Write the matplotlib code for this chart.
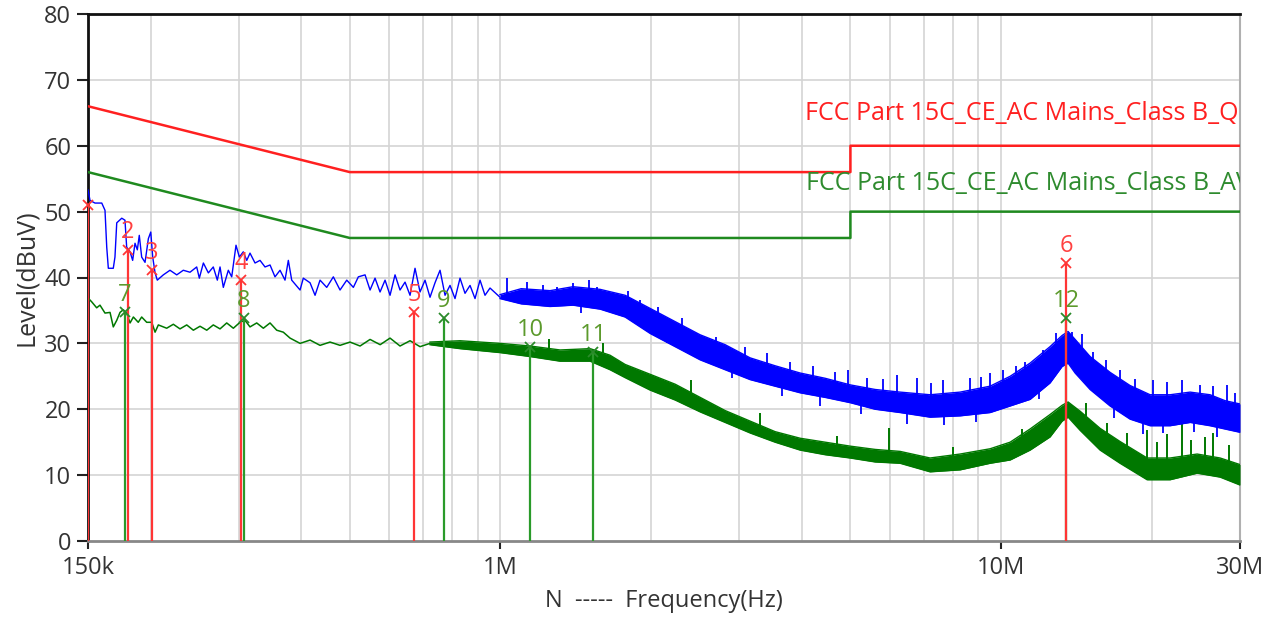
import matplotlib
matplotlib.use('Agg')
import matplotlib.pyplot as plt
import numpy as np

plt.rcParams['font.family'] = ['Open Sans', 'DejaVu Sans']

# ---------------- data ----------------
qp_limit_freq_khz = [150, 500, 5000, 5000, 30000]
qp_limit_db = [66, 56, 56, 60, 60]
av_limit_freq_khz = [150, 500, 5000, 5000, 30000]
av_limit_db = [56, 46, 46, 50, 50]

# peak (blue) trace, thin part
pk_line_freq_khz = [150, 151.4, 154.9, 159.8, 162.2, 163.5, 164.7, 168.5, 169.8, 171.2, 175.2, 177.8,
                    179.2, 182.0, 184.2, 186.2, 188.2, 189.9, 192.0, 195.0, 198.0, 200.2, 202.0, 204.2,
                    206.3, 212.1, 218.7, 225.6, 232.5, 239.8, 247.3, 250.3, 255.0, 260.9, 266.9, 271.9,
                    275.3, 279.5, 286.0, 290.5, 296.3, 300.9, 306.4, 311.3, 316.0, 323.4, 330.9, 338.6,
                    346.5, 354.5, 362.8, 371.2, 376.9, 382.8, 397.8, 403.8, 416.5, 426.2, 436.1, 449.7,
                    463.6, 478.1, 493.1, 508.3, 520.1, 536.4, 548.9, 561.6, 574.7, 588.1, 601.7, 615.7,
                    630.0, 644.7, 659.7, 675.0, 690.7, 706.8, 723.2, 740.0, 757.3, 774.9, 792.9, 811.3,
                    830.2, 849.5, 869.3, 889.5, 910.2, 931.3, 953.0, 997.9]
pk_line_db = [53.3, 51.7, 51.3, 51.3, 50.2, 44.6, 41.4, 41.4, 43.1, 48.3, 49.0, 48.7,
              44.6, 43.9, 42.6, 45.2, 44.2, 46.4, 43.1, 42.3, 45.9, 46.9, 43.1, 40.7,
              39.6, 40.4, 41.1, 40.4, 41.1, 40.8, 41.6, 39.9, 42.2, 40.7, 41.6, 39.6,
              41.6, 38.5, 41.1, 40.1, 44.9, 43.1, 43.9, 42.6, 43.7, 42.2, 42.6, 41.6,
              41.9, 40.1, 41.1, 39.6, 42.6, 39.6, 38.1, 39.9, 39.2, 37.3, 39.6, 38.5,
              40.1, 38.1, 39.6, 38.5, 40.1, 40.4, 38.1, 39.9, 37.8, 39.6, 37.3, 40.4,
              38.1, 39.3, 37.3, 41.4, 37.8, 39.6, 37.0, 39.2, 41.1, 37.3, 38.8, 36.8,
              39.9, 37.6, 38.8, 36.8, 39.6, 37.3, 38.4, 37.0]

# peak (blue) trace, dense part: lower and upper envelope
pk_band_freq_khz = [997.9, 1100, 1256, 1396, 1581, 1774, 1991, 2233, 2505, 2810, 3152, 3536, 3967, 4451,
                    4994, 5602, 6284, 7212, 8280, 9505, 10423, 11424, 12523, 13238, 13608, 14054,
                    15055, 16504, 18094, 19839, 21750, 23850, 26145, 28005, 30000]
pk_band_lo_db = [36.8, 36.0, 35.6, 35.8, 35.2, 34.0, 31.5, 29.5, 27.5, 26.0, 24.5, 23.5, 22.5, 21.8,
                 21.0, 20.0, 19.5, 18.8, 19.0, 19.5, 20.5, 21.5, 24.0, 26.5, 27.0, 25.5,
                 23.0, 20.5, 18.5, 17.5, 17.5, 18.0, 17.5, 17.0, 16.5]
pk_band_hi_db = [37.4, 38.3, 38.0, 38.6, 38.2, 37.3, 35.3, 33.3, 31.3, 29.8, 27.8, 26.6, 25.5, 24.7,
                 23.7, 23.0, 22.6, 22.2, 22.6, 23.5, 25.0, 27.0, 29.5, 31.2, 31.8, 30.6,
                 28.0, 25.6, 23.6, 22.2, 22.2, 22.6, 22.2, 21.3, 20.8]
pk_spike_freq_khz = [1031, 1130, 1216, 1297, 1396, 1500, 1559, 1670, 1800, 1901, 2065, 2300, 2470,
                     2700, 3080, 3400, 3789, 4200, 4660, 4947, 5400, 5800, 6197, 6794, 7250, 7657,
                     8670, 9100, 9505, 10090, 10700, 11165, 12128, 12900, 13856, 14500, 15264,
                     16200, 17280, 18500, 20115, 21450, 22980, 24975, 26500, 28275, 29300]
pk_spike_top_db = [39.9, 39.3, 38.8, 38.5, 39.2, 39.6, 38.5, 37.6, 37.9, 36.6, 35.5, 33.9, 31.6,
                   31.0, 29.4, 28.5, 27.2, 26.5, 25.6, 25.9, 24.8, 24.6, 25.2, 24.7, 24.0, 24.4,
                   24.7, 24.9, 25.5, 25.9, 26.5, 27.2, 29.0, 31.6, 31.7, 31.4, 28.7,
                   27.5, 25.9, 24.6, 24.4, 24.1, 24.4, 23.7, 23.5, 23.7, 22.5]
pk_spike_base_db = [37.0, 37.0, 37.0, 37.0, 37.5, 37.5, 37.0, 36.0, 35.5, 34.0, 33.0, 31.5, 30.0,
                    29.0, 27.0, 26.0, 25.0, 24.5, 23.5, 23.0, 22.5, 22.0, 22.0, 22.0, 21.5, 21.5,
                    22.0, 22.5, 23.0, 24.0, 24.5, 25.0, 27.0, 29.0, 30.0, 29.0, 27.0,
                    25.0, 24.0, 22.5, 21.5, 21.5, 22.0, 21.5, 21.0, 21.0, 20.0]
pk_dip_freq_khz = [1450, 2150, 2900, 3650, 4350, 5250, 6500, 7700, 8900, 11900, 16800, 19200,
                   21100, 24300, 27000]
pk_dip_bottom_db = [34.6, 30.0, 24.8, 22.0, 20.5, 19.3, 17.8, 17.6, 18.0, 21.5, 18.6, 16.2,
                    16.4, 16.6, 15.8]
pk_dip_top_db = [36.5, 32.0, 26.5, 24.0, 22.5, 21.0, 19.8, 19.5, 20.0, 23.5, 20.5, 18.0,
                 18.0, 18.5, 17.5]

# average (green) trace, thin part
av_line_freq_khz = [150, 152.6, 156.1, 158.5, 162.2, 166.0, 168.5, 171.2, 173.8, 176.4, 179.2, 182.0,
                    184.8, 189.0, 192.0, 196.5, 201.1, 204.2, 207.3, 215.4, 222.1, 229.0, 236.2, 243.5,
                    251.1, 259.0, 266.9, 275.3, 283.9, 292.7, 301.8, 308.8, 316.0, 325.9, 336.0, 346.5,
                    357.3, 368.3, 379.9, 397.8, 416.5, 436.1, 456.6, 478.1, 500.6, 524.2, 548.9, 575.0,
                    601.7, 630.0, 659.7, 690.7, 723.2]
av_line_db = [36.9, 36.3, 35.4, 35.8, 34.6, 34.7, 32.5, 33.5, 34.7, 35.1, 34.6, 33.1,
              34.0, 33.2, 34.0, 33.2, 33.2, 31.7, 32.8, 32.3, 32.9, 32.2, 32.8, 32.0,
              32.6, 32.0, 32.8, 32.2, 33.1, 32.3, 33.2, 33.5, 32.5, 33.1, 32.3, 33.1,
              32.0, 31.7, 30.8, 30.0, 30.5, 29.7, 30.2, 29.7, 30.2, 29.6, 30.6, 29.8,
              30.8, 29.6, 30.4, 29.5, 30.0]
av_band_freq_khz = [723, 830, 998, 1146, 1315, 1510, 1655, 1774, 1991, 2233,
                    2505, 2810, 3152, 3536, 3967, 4451, 4994, 5602, 6284, 7212, 8280, 9505, 10423,
                    11424, 12523, 13238, 13608, 14380, 15764, 17280, 19568, 21750, 24630, 27375, 30000]
av_band_lo_db = [29.8, 29.2, 28.6, 28.0, 27.3, 27.3, 26.0, 24.8, 22.9, 21.4,
                 19.6, 18.0, 16.4, 15.0, 13.8, 13.1, 12.6, 12.0, 11.8, 10.5, 10.8, 11.8, 12.3,
                 13.8, 15.8, 18.2, 18.8, 16.8, 13.8, 11.8, 9.3, 9.3, 10.3, 9.7, 8.5]
av_band_hi_db = [30.2, 30.4, 30.0, 29.6, 29.0, 29.2, 28.2, 26.8, 25.3, 23.8,
                 21.8, 19.8, 18.2, 16.6, 15.6, 15.0, 14.4, 13.9, 13.6, 12.6, 13.2, 14.0, 15.0,
                 17.0, 19.2, 20.6, 21.1, 19.7, 17.1, 15.1, 12.6, 12.6, 13.2, 12.6, 11.6]
av_spike_freq_khz = [771.3, 1250, 1600, 2400, 3300, 4700, 5973, 8000, 11000, 14800, 16280, 17850,
                     19568, 20500, 21450, 22980, 24000, 25500, 26510, 28500]
av_spike_top_db = [33.0, 30.6, 30.0, 24.5, 19.5, 16.0, 17.1, 14.3, 17.0, 21.0, 17.9, 16.4,
                   16.8, 15.0, 16.2, 19.1, 15.3, 15.8, 16.4, 14.5]
av_spike_base_db = [30.0, 29.0, 28.5, 22.5, 17.5, 14.0, 13.0, 12.5, 15.0, 19.0, 15.0, 14.0,
                    12.0, 12.0, 12.0, 12.5, 12.5, 12.5, 12.0, 11.0]

# final markers
qp_mark_no = [1, 2, 3, 4, 5, 6]
qp_mark_freq_khz = [150, 180.3, 201.4, 303.2, 671.9, 13484]
qp_mark_db = [51.0, 44.2, 41.1, 39.6, 34.7, 42.2]
av_mark_no = [7, 8, 9, 10, 11, 12]
av_mark_freq_khz = [177.8, 307.4, 771.3, 1146, 1531, 13484]
av_mark_db = [34.7, 33.8, 33.8, 29.4, 28.7, 33.8]

x_tick_khz = [150, 1000, 10000, 30000]
x_tick_labels = ['150k', '1M', '10M', '30M']
y_ticks = [0, 10, 20, 30, 40, 50, 60, 70, 80]
qp_limit_name = 'FCC Part 15C_CE_AC Mains_Class B_QP'
av_limit_name = 'FCC Part 15C_CE_AC Mains_Class B_AV'

# ---------------- style ----------------
RED = '#ff2020'
LIM_GREEN = '#1f8a1f'
TR_GREEN = '#007800'
BLUE = '#0000ff'
TXT = '#333333'

fig = plt.figure(figsize=(12.72, 6.21), dpi=100)
ax = fig.add_axes([88 / 1272, 1 - 541 / 621, (1240 - 88) / 1272, (541 - 14) / 621])
ax.set_xscale('log')
ax.set_xlim(150e3, 30e6)
ax.set_ylim(0, 80)

def hz(lst):
    return np.asarray(lst, dtype=float) * 1e3

# grid
minor = [f * 1e3 for f in (200, 300, 400, 500, 600, 700, 800, 900)] + \
        [f * 1e6 for f in (1, 2, 3, 4, 5, 6, 7, 8, 9, 10, 20)]
for m in minor:
    ax.axvline(m, color='#d4d4d4', lw=1.2, zorder=0)
for yv in y_ticks[1:-1]:
    ax.axhline(yv, color='#d4d4d4', lw=1.2, zorder=0)

# limit lines
ax.plot(hz(qp_limit_freq_khz), qp_limit_db, color=RED, lw=1.8, zorder=3)
ax.plot(hz(av_limit_freq_khz), av_limit_db, color=LIM_GREEN, lw=1.8, zorder=3)

# average trace
ax.plot(hz(av_line_freq_khz), av_line_db, color=TR_GREEN, lw=1.1, zorder=4)
ax.fill_between(hz(av_band_freq_khz), av_band_lo_db, av_band_hi_db, color=TR_GREEN, lw=0, zorder=4)
ax.plot(hz(av_band_freq_khz), av_band_lo_db, color=TR_GREEN, lw=1.0, zorder=4)
ax.plot(hz(av_band_freq_khz), av_band_hi_db, color=TR_GREEN, lw=1.0, zorder=4)
ax.vlines(hz(av_spike_freq_khz), av_spike_base_db, av_spike_top_db, color=TR_GREEN, lw=1.4, zorder=4)

# peak trace
ax.plot(hz(pk_line_freq_khz), pk_line_db, color=BLUE, lw=1.0, zorder=5)
ax.fill_between(hz(pk_band_freq_khz), pk_band_lo_db, pk_band_hi_db, color=BLUE, lw=0, zorder=5)
ax.plot(hz(pk_band_freq_khz), pk_band_lo_db, color=BLUE, lw=1.0, zorder=5)
ax.plot(hz(pk_band_freq_khz), pk_band_hi_db, color=BLUE, lw=1.0, zorder=5)
ax.vlines(hz(pk_spike_freq_khz), pk_spike_base_db, pk_spike_top_db, color=BLUE, lw=1.3, zorder=5)
ax.vlines(hz(pk_dip_freq_khz), pk_dip_bottom_db, pk_dip_top_db, color=BLUE, lw=1.3, zorder=5)

# markers
for n, f, v in zip(av_mark_no, av_mark_freq_khz, av_mark_db):
    ax.vlines(f * 1e3, 0, v, color='#2a9a2a', lw=1.6, zorder=6)
    ax.plot(f * 1e3, v, marker='x', ms=7, mew=1.3, color='#2a8a2a', zorder=7)
    ax.annotate(str(n), (f * 1e3, v), xytext=(0, 12.5), textcoords='offset points',
                ha='center', va='center', fontsize=17, color='#5c9a2c', zorder=8)
for n, f, v in zip(qp_mark_no, qp_mark_freq_khz, qp_mark_db):
    ax.vlines(f * 1e3, 0, v, color='#ff3535', lw=1.6, zorder=6)
    ax.plot(f * 1e3, v, marker='x', ms=7, mew=1.3, color='#ff3535', zorder=7, clip_on=False)
    if n != 1:
        ax.annotate(str(n), (f * 1e3, v), xytext=(0, 12.5), textcoords='offset points',
                    ha='center', va='center', fontsize=17, color='#ff4040', zorder=8)

# limit names
ax.text(0.6224, 0.812, qp_limit_name, transform=ax.transAxes, color=RED, fontsize=18,
        ha='left', va='center', clip_on=True, zorder=9)
ax.text(0.6233, 0.679, av_limit_name, transform=ax.transAxes, color='#2e8b2e', fontsize=18,
        ha='left', va='center', clip_on=True, zorder=9)

# axes styling
ax.set_xticks(hz(x_tick_khz))
ax.set_xticklabels(x_tick_labels)
ax.xaxis.set_minor_locator(matplotlib.ticker.NullLocator())
ax.set_yticks(y_ticks)
ax.tick_params(axis='x', length=6, width=1.5, color='#222222', labelsize=17, labelcolor=TXT, pad=5)
ax.tick_params(axis='y', length=8, width=1.5, color='#222222', labelsize=17, labelcolor=TXT, pad=4)
for s in ('left', 'top'):
    ax.spines[s].set_color('#111111')
    ax.spines[s].set_linewidth(2.0)
ax.spines['bottom'].set_color('#888888')
ax.spines['bottom'].set_linewidth(2.0)
ax.spines['right'].set_color('#b0b0b0')
ax.spines['right'].set_linewidth(1.5)
ax.set_xlabel('N  -----  Frequency(Hz)', fontsize=17, color=TXT, labelpad=6)
ax.set_ylabel('Level(dBuV)', fontsize=18, color=TXT, labelpad=4)

fig.savefig('out.png', dpi=100)
